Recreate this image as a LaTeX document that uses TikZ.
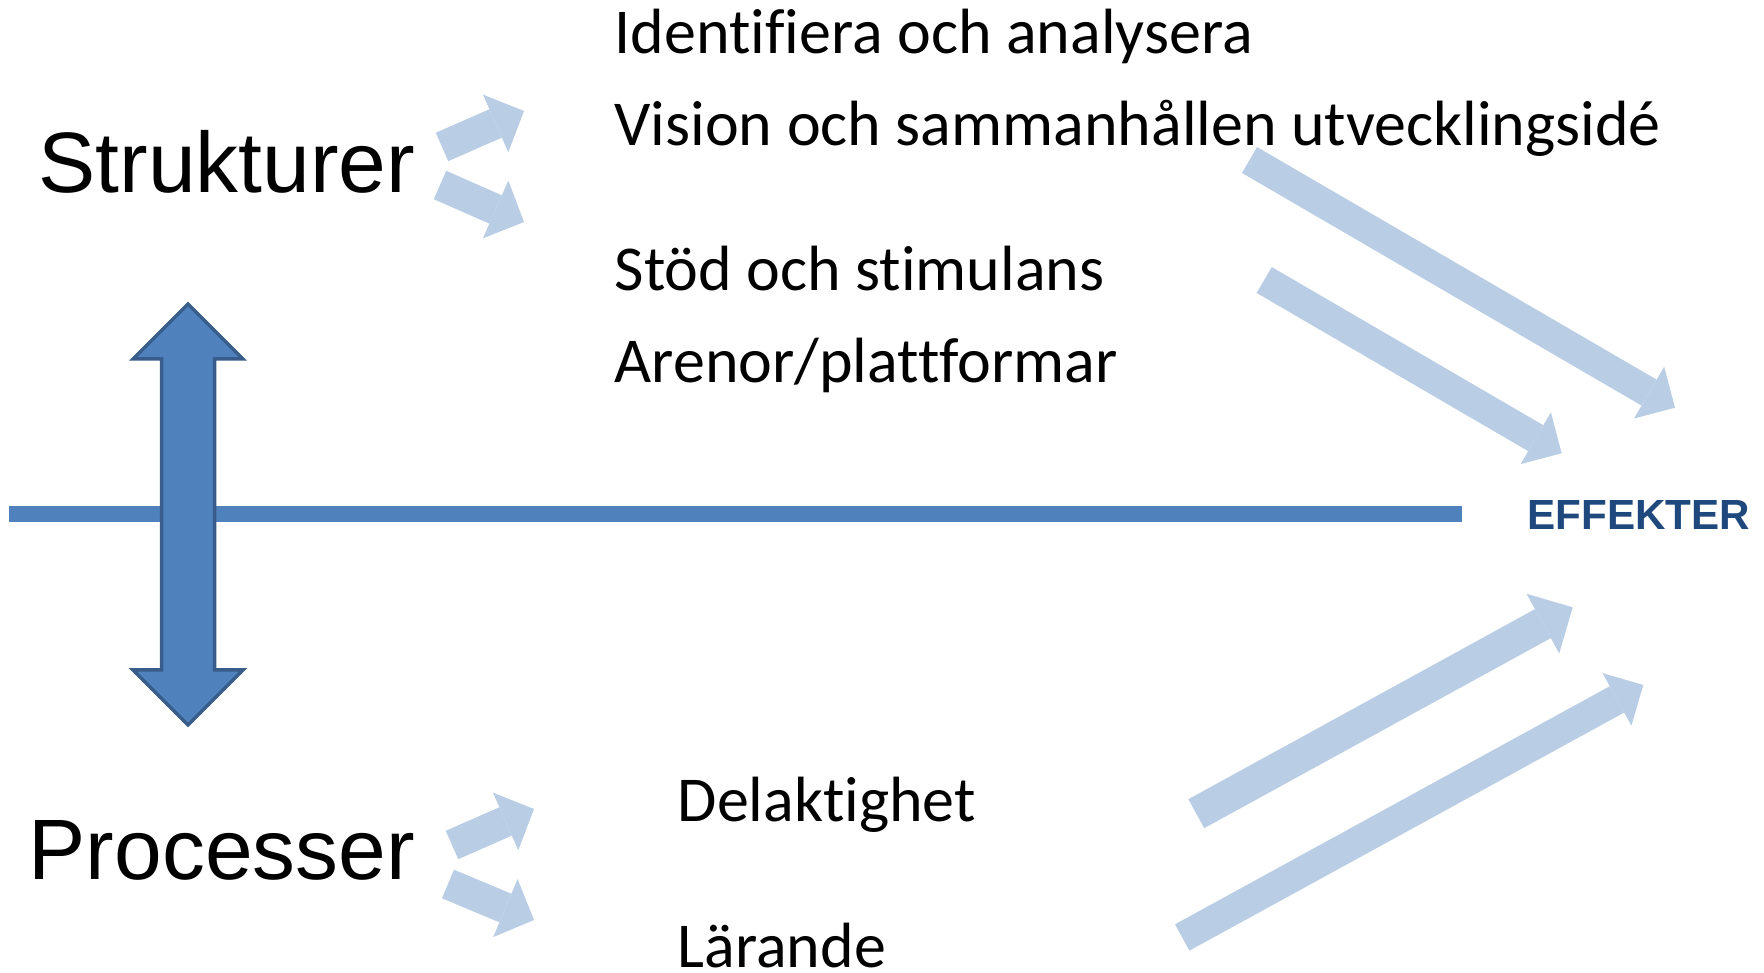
\documentclass[tikz,border=0pt]{standalone}
\usepackage{fontspec}
\setmainfont{Carlito}[Ligatures=NoCommon]
\newfontfamily\headfont{Liberation Sans}
\usetikzlibrary{arrows.meta, positioning}
\definecolor{lineblue}{HTML}{4F81BD}
\definecolor{edgeblue}{HTML}{385D8A}
\definecolor{flowblue}{HTML}{B9CDE5}
\definecolor{darkblue}{HTML}{1F497D}

\begin{document}
\begin{tikzpicture}[
    x=0.1mm, y=-0.1mm,
    item/.style={anchor=base west, inner sep=0pt, font=\fontsize{18.2}{22}\selectfont},
    heading/.style={anchor=base west, inner sep=0pt, font=\headfont\fontsize{24.4}{29}\selectfont},
    effect/.style={anchor=base west, inner sep=0pt, text=darkblue, font=\headfont\bfseries\fontsize{12}{14}\selectfont},
    flow/.style={draw=flowblue, line width=3.1mm, -{Triangle[length=3.1mm, width=6.3mm, line width=0pt]}},
    axis/.style={draw=lineblue, line width=1.6mm},
    twoway/.style={fill=lineblue, draw=edgeblue, line width=0.35mm, line join=miter}]

\useasboundingbox (0,0) rectangle (1764,973);

% Headings
\node[heading] (strukt) at (38,193) {Strukturer};
\node[heading] (proc) at (28,880) {Processer};

% Structure items
\node[item] (ident) at (614,53.5) {Identifiera och analysera};
\node[item] (vision) at (614,145.5) {Vision och sammanhållen utvecklingsidé};
\node[item] (stod) at (614,291) {Stöd och stimulans};
\node[item] (arenor) at (614,383) {Arenor/plattformar};

% Process items
\node[item] (delakt) at (677,821.5) {Delaktighet};
\node[item] (larande) at (677,968) {Lärande};

% Effects
\node[effect] (effekt) at (1527,529.5) {EFFEKTER};

% Dividing line
\coordinate (axisW) at (9,514);
\coordinate (axisE) at (1462,514);
\draw[axis] (axisW) -- (axisE);

% Two-way arrow between structures and processes
\filldraw[twoway, shift={(188,514.5)}]
    (0,-210.5) -- (55,-155.5) -- (26.5,-155.5) -- (26.5,155.5) -- (55,155.5)
    -- (0,210.5) -- (-55,155.5) -- (-26.5,155.5) -- (-26.5,-155.5) -- (-55,-155.5) -- cycle;

% Small arrows from the headings
\coordinate (s1a) at (442,147);   \coordinate (s1b) at (524,111);
\coordinate (s2a) at (440,185);   \coordinate (s2b) at (524,222);
\coordinate (p1a) at (452,845);   \coordinate (p1b) at (534,809);
\coordinate (p2a) at (448,884);   \coordinate (p2b) at (534,920);
\draw[flow] (s1a) -- (s1b);
\draw[flow] (s2a) -- (s2b);
\draw[flow] (p1a) -- (p1b);
\draw[flow] (p2a) -- (p2b);

% Long arrows towards the effects
\coordinate (e1a) at (1249.5,160);  \coordinate (e1b) at (1675,407.7);
\coordinate (e2a) at (1264.2,280);  \coordinate (e2b) at (1561.7,453.3);
\coordinate (e3a) at (1196.3,813.7); \coordinate (e3b) at (1572.7,607.3);
\coordinate (e4a) at (1182.2,937.5); \coordinate (e4b) at (1643.3,685);
\draw[flow, line width=3mm, -{Triangle[length=3mm, width=6mm, line width=0pt]}] (e1a) -- (e1b);
\draw[flow, line width=3mm, -{Triangle[length=3mm, width=6mm, line width=0pt]}] (e2a) -- (e2b);
\draw[flow, line width=3.3mm, -{Triangle[length=3.4mm, width=6.8mm, line width=0pt]}] (e3a) -- (e3b);
\draw[flow, line width=3mm, -{Triangle[length=3mm, width=6mm, line width=0pt]}] (e4a) -- (e4b);

\end{tikzpicture}
\end{document}
